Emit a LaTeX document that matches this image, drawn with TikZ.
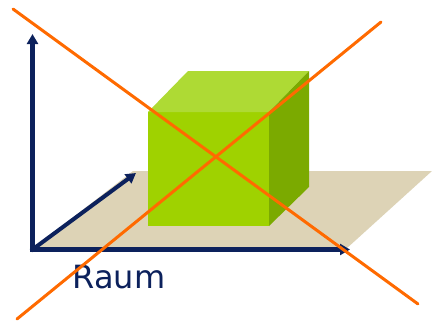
\documentclass[tikz,border=0pt]{standalone}
\usepackage{fontspec}
\setsansfont{DejaVu Sans}
\usetikzlibrary{arrows.meta,positioning,calc}
\definecolor{cAxis}{HTML}{0C215C}
\definecolor{cFloor}{HTML}{DDD3B6}
\definecolor{cFront}{HTML}{9FD200}
\definecolor{cTop}{HTML}{AEDA34}
\definecolor{cSide}{HTML}{7BAA00}
\definecolor{cCross}{HTML}{FF6A00}

\begin{document}
\begin{tikzpicture}[
    x=1pt, y=-1pt,
    axis/.style={-{Triangle[length=10pt, width=11pt]}, line width=5pt, line cap=rect, cAxis},
    cross/.style={line width=3pt, cCross, line cap=round},
    lbl/.style={font=\sffamily\fontsize{32}{32}\selectfont, text=cAxis, inner sep=0pt}
]
\useasboundingbox (0,0) rectangle (432,322);

% Boden
\fill[cFloor] (32,249) -- (346,249) -- (432,171) -- (133,171) -- cycle;

% Wuerfel
\fill[cFront] (148,112) rectangle (269,226);
\fill[cTop] (148,112) -- (188,71) -- (309,71) -- (269,112) -- cycle;
\fill[cSide] (269,112) -- (309,71) -- (309,187) -- (269,226) -- cycle;

% Achsen
\coordinate (o) at (32.5,249.5);
\coordinate (ax) at (350,249.5);
\coordinate (ay) at (32.5,34);
\coordinate (az) at (136,173);
\foreach \e/\w in {ax/5pt, ay/5pt, az/4pt} {
  \draw[axis, line width=\w] (o) -- (\e);
}
\node[lbl, anchor=base] (raum) at (119,288) {Raum};

% Kreuz
\coordinate (c1) at (13,9);
\coordinate (c2) at (418,304);
\coordinate (c3) at (381,22);
\coordinate (c4) at (17,319);
\draw[cross] (c1) -- (c2);
\draw[cross] (c3) -- (c4);
\end{tikzpicture}
\end{document}
